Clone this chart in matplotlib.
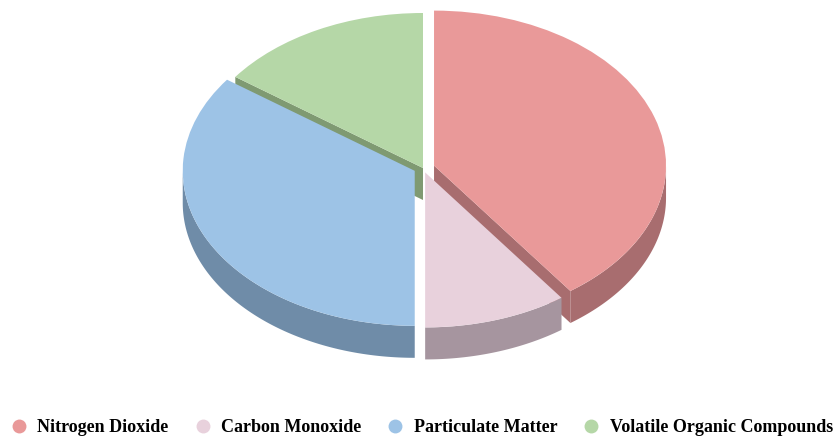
import numpy as np
import matplotlib.pyplot as plt
from matplotlib.lines import Line2D

labels = ['Nitrogen Dioxide', 'Carbon Monoxide', 'Particulate Matter', 'Volatile Organic Compounds']
values = [40, 10, 35, 15]
top_colors = ['#E99999', '#E8D1DC', '#9DC3E6', '#B5D7A7']
side_colors = ['#A86D6F', '#A6959F', '#6F8CA8', '#7F9A72']
explode = [0.05, 0.03, 0.04, 0.0]

W, H = 839, 437
cx_px, cy_px = 423, 168     # pie centre in pixels
rx_px, ry_px = 232, 155     # ellipse radii in pixels
depth_px = 32

fig = plt.figure(figsize=(W / 100, H / 100), dpi=100)
ax = fig.add_axes([0, 0, 1, 1])

# top faces
wedges, _ = ax.pie(values, colors=top_colors, startangle=90, counterclock=False,
                   explode=explode, wedgeprops=dict(linewidth=0))
for w in wedges:
    w.set_zorder(5)

ax.set_aspect('auto')
ax.set_xlim(-cx_px / rx_px, (W - cx_px) / rx_px)
ax.set_ylim((cy_px - H) / ry_px, cy_px / ry_px)
ax.axis('off')
depth = depth_px / ry_px

# side faces, built from the wedges the pie gave back
for w, sc in zip(wedges, side_colors):
    cx, cy = w.center
    t1, t2 = w.theta1, w.theta2
    # radial cut faces
    for t, vis in ((t1, np.cos(np.radians(t1)) > 1e-6),
                   (t2, np.cos(np.radians(t2)) < -1e-6)):
        if vis:
            ex = cx + np.cos(np.radians(t))
            ey = cy + np.sin(np.radians(t))
            ax.fill([cx, ex, ex, cx], [cy, ey, ey - depth, cy - depth],
                    color=sc, lw=0, zorder=2)
    # outer wall, only the front half
    t = np.radians(np.linspace(t1, t2, 400))
    front = np.sin(t) < 0
    idx = np.where(front)[0]
    if len(idx) == 0:
        continue
    runs = np.split(idx, np.where(np.diff(idx) > 1)[0] + 1)
    for r in runs:
        tt = t[r]
        xs = cx + np.cos(tt)
        ys = cy + np.sin(tt)
        ax.fill(np.concatenate([xs, xs[::-1]]),
                np.concatenate([ys, ys[::-1] - depth]),
                color=sc, lw=0, zorder=3)

handles = [Line2D([], [], marker='o', ls='', markersize=10, markerfacecolor=c,
                  markeredgewidth=0) for c in top_colors]
fig.legend(handles, labels, loc='center', ncol=4, frameon=False,
           prop=dict(family='Liberation Serif', weight='bold', size=13),
           bbox_to_anchor=(0.5024, 0.021), columnspacing=1.4,
           handlelength=1.0, handletextpad=0.5, borderpad=0.1)

fig.savefig('out.png', dpi=100)
